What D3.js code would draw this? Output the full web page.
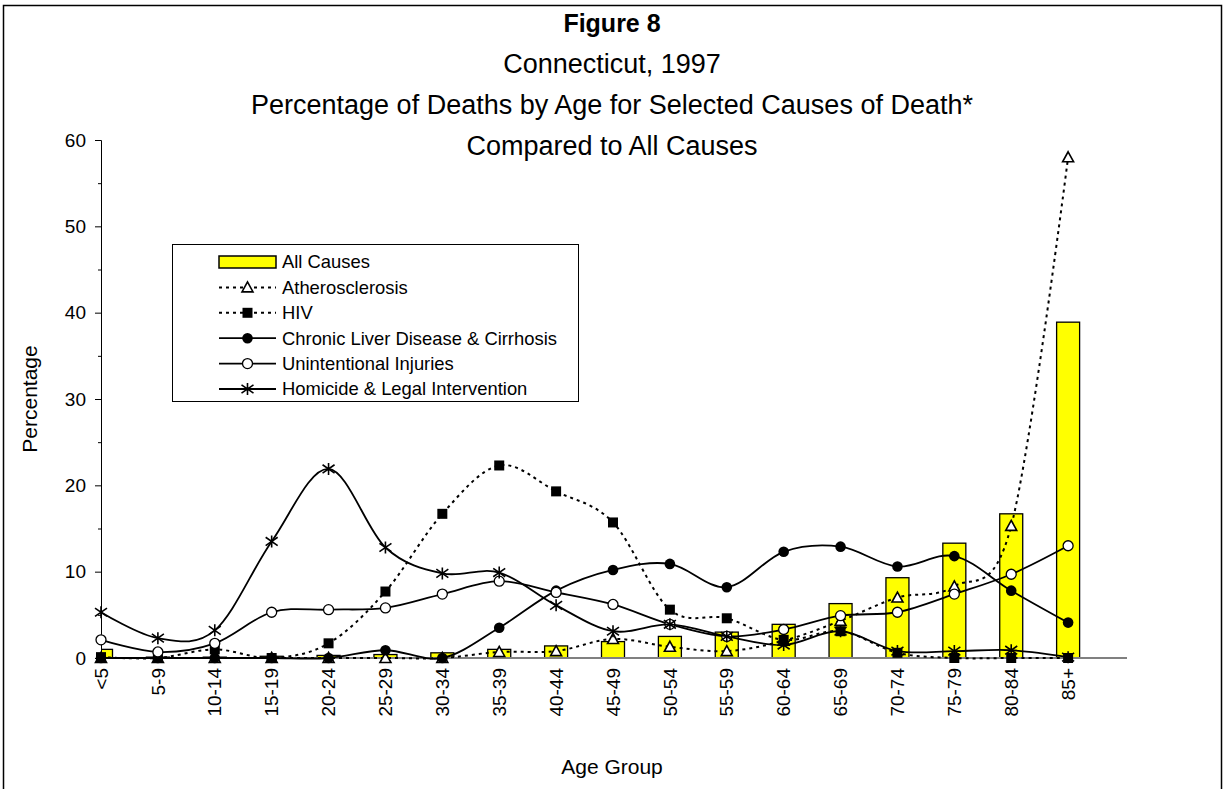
<!DOCTYPE html>
<html>
<head>
<meta charset="utf-8">
<script src="https://cdn.jsdelivr.net/npm/d3@7"></script>
<style>
  body { margin: 0; background: #fff; }
  text { font-family: "Liberation Sans", Arial, sans-serif; fill: #000; }
</style>
</head>
<body>
<div id="wrapper"></div>
<script>
// DATA
const ages = ["<5","5-9","10-14","15-19","20-24","25-29","30-34","35-39","40-44",
  "45-49","50-54","55-59","60-64","65-69","70-74","75-79","80-84","85+"]
const allCauses = [1.0, 0.1, 0.1, 0.2, 0.3, 0.4, 0.6, 1.0, 1.4, 1.9, 2.5, 3.0, 3.9, 6.3, 9.3, 13.3, 16.7, 38.9]
const atherosclerosis = [0, 0, 0, 0, 0, 0, 0, 0.7, 0.8, 2.2, 1.3, 0.8, 2.0, 4.3, 7.0, 8.3, 15.3, 58.0]
const hiv = [0.1, 0, 1.0, 0, 1.7, 7.7, 16.7, 22.3, 19.3, 15.7, 5.6, 4.6, 2.1, 3.1, 0.6, 0, 0, 0]
const liver = [0, 0, 0, 0, 0, 0.9, 0, 3.5, 7.8, 10.2, 10.9, 8.2, 12.3, 12.9, 10.6, 11.8, 7.8, 4.1]
const injuries = [2.1, 0.7, 1.7, 5.3, 5.6, 5.8, 7.4, 8.9, 7.6, 6.2, 3.9, 2.5, 3.3, 4.9, 5.3, 7.4, 9.7, 13.0]
const homicide = [5.3, 2.3, 3.2, 13.5, 21.9, 12.8, 9.8, 9.9, 6.1, 3.1, 3.9, 2.5, 1.5, 3.1, 0.8, 0.8, 0.9, 0.1]
const yTicks = [0, 10, 20, 30, 40, 50, 60]
const yMinorTicks = [5, 15, 25, 35, 45, 55]
const titleLines = ["Connecticut, 1997", "Percentage of Deaths by Age for Selected Causes of Death*", "Compared to All Causes"]

const series = [
  { name: "Atherosclerosis", values: atherosclerosis, dash: "3,4", marker: "triangle" },
  { name: "HIV", values: hiv, dash: "3,4", marker: "square" },
  { name: "Chronic Liver Disease & Cirrhosis", values: liver, dash: null, marker: "dot" },
  { name: "Unintentional Injuries", values: injuries, dash: null, marker: "circle" },
  { name: "Homicide & Legal Intervention", values: homicide, dash: null, marker: "star" },
]

// DIMENSIONS
const width = 1225
const height = 789
const plot = { left: 101, right: 1125, top: 140, bottom: 658 }

const svg = d3.select("#wrapper").append("svg")
  .attr("width", width)
  .attr("height", height)

// outer frame
svg.append("rect")
  .attr("x", 3.5).attr("y", 5.5)
  .attr("width", 1218).attr("height", 800)
  .attr("fill", "none").attr("stroke", "#000").attr("stroke-width", 1.5)

// SCALES
const xScale = d3.scaleBand().domain(ages).range([plot.left, plot.right])
const xPos = a => xScale(a)
const yScale = d3.scaleLinear().domain([0, 60]).range([plot.bottom, plot.top])

svg.append("clipPath").attr("id", "plotClip")
  .append("rect")
  .attr("x", plot.left).attr("y", plot.top - 10)
  .attr("width", plot.right - plot.left).attr("height", plot.bottom - plot.top + 10)

// TITLE
svg.append("text")
  .attr("x", 612).attr("y", 32)
  .attr("text-anchor", "middle")
  .style("font-size", "25px").style("font-weight", "bold")
  .text("Figure 8")
titleLines.forEach((t, i) => {
  svg.append("text")
    .attr("x", 612).attr("y", 73 + i * 41)
    .attr("text-anchor", "middle")
    .style("font-size", "27px")
    .text(t)
})

// BARS
const barWidth = 23
svg.append("g").attr("clip-path", "url(#plotClip)")
  .selectAll("rect")
  .data(ages.map((a, i) => ({ a, v: allCauses[i] })))
  .join("rect")
  .attr("x", d => xPos(d.a) - barWidth / 2)
  .attr("y", d => yScale(d.v))
  .attr("width", barWidth)
  .attr("height", d => yScale(0) - yScale(d.v))
  .attr("fill", "#ffff00")
  .attr("stroke", "#000")
  .attr("stroke-width", 1.3)

// AXES
const yAxis = svg.append("g")
  .attr("transform", `translate(${plot.left},0)`)
  .call(d3.axisLeft(yScale).tickValues(yTicks).tickSize(6).tickPadding(9))
yAxis.selectAll("text").style("font-size", "19px").style("font-family", "Liberation Sans, Arial, sans-serif")
yAxis.select(".domain").attr("stroke", "#000")
svg.append("g")
  .attr("transform", `translate(${plot.left},0)`)
  .call(d3.axisLeft(yScale).tickValues(yMinorTicks).tickSize(3).tickFormat(""))
  .select(".domain").remove()

svg.append("line")
  .attr("x1", plot.left).attr("x2", plot.right + 2)
  .attr("y1", yScale(0)).attr("y2", yScale(0))
  .attr("stroke", "#808080").attr("stroke-width", 2)

svg.append("g").selectAll("text")
  .data(ages)
  .join("text")
  .attr("transform", d => `translate(${xPos(d)},668) rotate(-90)`)
  .attr("text-anchor", "end")
  .attr("dy", "0.35em")
  .style("font-size", "19px")
  .text(d => d)

svg.append("text")
  .attr("x", 612).attr("y", 774)
  .attr("text-anchor", "middle")
  .style("font-size", "21px")
  .text("Age Group")

svg.append("text")
  .attr("transform", `translate(37,${(plot.top + plot.bottom) / 2}) rotate(-90)`)
  .attr("text-anchor", "middle")
  .style("font-size", "21px")
  .text("Percentage")

// MARKERS
const drawMarker = (g, type, x, y) => {
  if (type === "triangle") {
    g.append("path")
      .attr("d", `M${x},${y - 5.5}L${x + 5.5},${y + 4.5}L${x - 5.5},${y + 4.5}Z`)
      .attr("fill", "#fff").attr("stroke", "#000").attr("stroke-width", 1.6)
  } else if (type === "square") {
    g.append("rect")
      .attr("x", x - 5).attr("y", y - 5).attr("width", 10).attr("height", 10)
      .attr("fill", "#000")
  } else if (type === "dot") {
    g.append("circle").attr("cx", x).attr("cy", y).attr("r", 5.3).attr("fill", "#000")
  } else if (type === "circle") {
    g.append("circle").attr("cx", x).attr("cy", y).attr("r", 5)
      .attr("fill", "#fff").attr("stroke", "#000").attr("stroke-width", 1.3)
  } else if (type === "star") {
    const r = 6
    g.append("path")
      .attr("d", `M${x},${y - r}V${y + r}M${x - r},${y - r * 0.7}L${x + r},${y + r * 0.7}M${x - r},${y + r * 0.7}L${x + r},${y - r * 0.7}`)
      .attr("stroke", "#000").attr("stroke-width", 1.6).attr("fill", "none")
  }
}

// LINES
const lineGen = d3.line()
  .x(d => xPos(d.a))
  .y(d => yScale(d.v))
  .curve(d3.curveCardinal.tension(0))

series.forEach(s => {
  const pts = ages.map((a, i) => ({ a, v: s.values[i] }))
  const g = svg.append("g")
  g.append("path")
    .attr("d", lineGen(pts))
    .attr("fill", "none")
    .attr("stroke", "#000")
    .attr("stroke-width", s.dash ? 2 : 1.8)
    .attr("stroke-dasharray", s.dash)
  pts.forEach(p => drawMarker(g, s.marker, xPos(p.a), yScale(p.v)))
})

// LEGEND
const legend = svg.append("g")
legend.append("rect")
  .attr("x", 172.5).attr("y", 244.5)
  .attr("width", 406).attr("height", 157)
  .attr("fill", "#fff").attr("stroke", "#000").attr("stroke-width", 1)

const legendItems = [{ name: "All Causes", bar: true }].concat(series)
legendItems.forEach((s, i) => {
  const cy = 262 + i * 25.4
  if (s.bar) {
    legend.append("rect")
      .attr("x", 219).attr("y", cy - 6)
      .attr("width", 57).attr("height", 12)
      .attr("fill", "#ffff00").attr("stroke", "#000").attr("stroke-width", 1.5)
  } else {
    legend.append("line")
      .attr("x1", 219).attr("x2", 276)
      .attr("y1", cy).attr("y2", cy)
      .attr("stroke", "#000").attr("stroke-width", s.dash ? 2 : 1.8)
      .attr("stroke-dasharray", s.dash)
    drawMarker(legend, s.marker, 247.5, cy)
  }
  legend.append("text")
    .attr("x", 282).attr("y", cy)
    .attr("dy", "0.35em")
    .style("font-size", "18.4px")
    .text(s.name)
})
</script>
</body>
</html>
